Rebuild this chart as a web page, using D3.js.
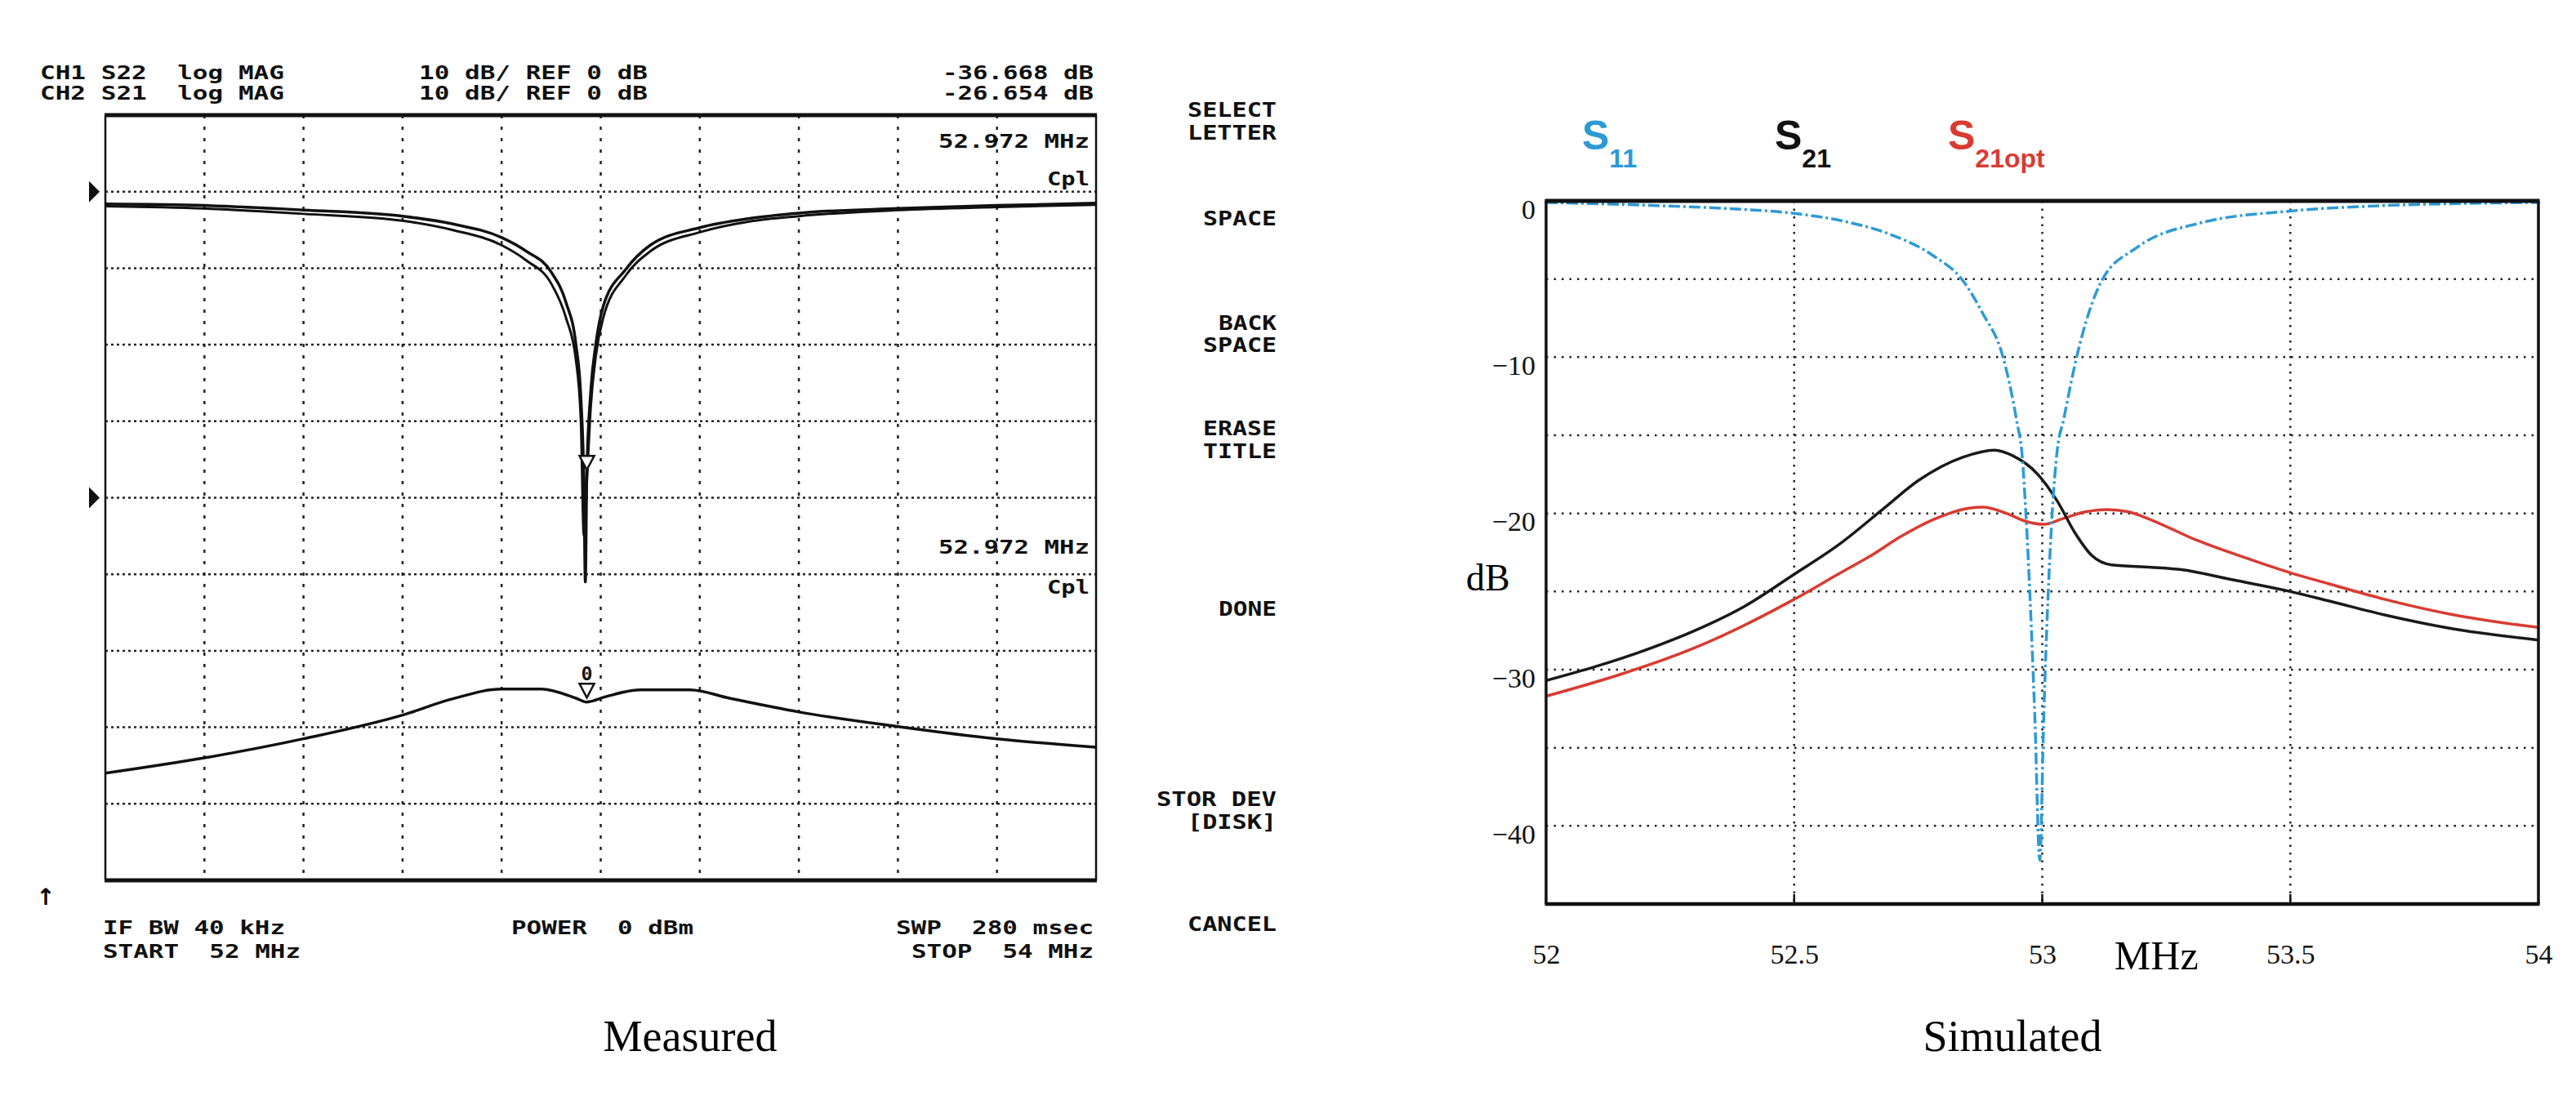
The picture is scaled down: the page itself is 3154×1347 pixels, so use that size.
<!DOCTYPE html>
<html>
<head>
<meta charset="utf-8">
<script src="https://cdn.jsdelivr.net/npm/d3@7"></script>
<style>
body { margin: 0; background: #fff; }
text { white-space: pre; }
</style>
</head>
<body>
<script>
// ---- measured (network analyser printout) ----
const measS22Freq = [52.0, 52.2, 52.4, 52.6, 52.7, 52.8, 52.85, 52.9, 52.93, 52.95, 52.96, 52.966, 52.969, 52.972, 52.98, 52.99, 53.005, 53.05, 53.1, 53.2, 53.3, 53.4, 53.6, 53.8, 54.0];
const measS22A = [-1.6, -1.8, -2.4, -3.2, -4.2, -6.0, -7.8, -10.5, -14.5, -20, -27, -38, -51, -36.7, -26, -20, -15, -10.2, -7, -4.7, -3.5, -2.8, -2.2, -1.8, -1.5];
const measS22B = [-1.9, -2.2, -2.9, -3.8, -5.0, -7.0, -9.0, -12, -16.5, -22, -30, -45, -42, -38, -28, -21.5, -16.5, -11, -7.8, -5.3, -3.9, -3.2, -2.4, -2.0, -1.7];
const measS21Freq = [52.0, 52.2, 52.4, 52.6, 52.7, 52.8, 52.88, 52.95, 52.972, 53.01, 53.08, 53.18, 53.26, 53.4, 53.6, 53.8, 54.0];
const measS21 = [-36.0, -34.0, -31.5, -28.4, -26.3, -25.0, -25.0, -26.2, -26.7, -26.0, -25.1, -25.1, -26.2, -28.0, -29.9, -31.5, -32.6];
const markerFreq = 52.972;
const markerS22 = -36.668;
const markerS21 = -26.654;

const headerLines = ["CH1 S22  log MAG", "CH2 S21  log MAG"];
const scaleLabels = ["10 dB/ REF 0 dB", "10 dB/ REF 0 dB"];
const readouts = ["-36.668 dB", "-26.654 dB"];
const menuLabels = [["SELECT", "LETTER"], ["SPACE"], ["BACK", "SPACE"], ["ERASE", "TITLE"], ["DONE"], ["STOR DEV", "[DISK]"], ["CANCEL"]];

// ---- simulated ----
const simS11Freq = [52.0, 52.22, 52.37, 52.5, 52.6, 52.69, 52.78, 52.84, 52.88, 52.92, 52.948, 52.96, 52.967, 52.985, 52.995, 53.003, 53.02, 53.03, 53.043, 53.07, 53.12, 53.19, 53.32, 53.5, 53.69, 54.0];
const simS11 = [-0.1, -0.3, -0.5, -0.8, -1.3, -2.1, -3.5, -5.1, -7.2, -9.9, -14.0, -16.5, -20, -33, -42.2, -33, -20, -16, -14, -9.9, -5.1, -3.0, -1.4, -0.65, -0.3, -0.1];
const simS21Freq = [52.0, 52.1, 52.2, 52.3, 52.4, 52.5, 52.59, 52.68, 52.75, 52.84, 52.904, 52.94, 52.991, 53.03, 53.067, 53.10, 53.14, 53.22, 53.28, 53.376, 53.5, 53.577, 53.69, 53.83, 54.0];
const simS21 = [-30.7, -29.8, -28.75, -27.5, -25.95, -23.9, -22.0, -19.7, -17.9, -16.4, -15.95, -16.3, -17.5, -19.2, -21.3, -22.7, -23.3, -23.45, -23.6, -24.2, -25.0, -25.6, -26.5, -27.4, -28.1];
const simOptFreq = [52.0, 52.15, 52.3, 52.5, 52.588, 52.66, 52.714, 52.78, 52.853, 52.88, 52.928, 52.966, 53.004, 53.04, 53.087, 53.13, 53.174, 53.218, 53.31, 53.41, 53.5, 53.577, 53.69, 53.83, 54.0];
const simOpt = [-31.7, -30.3, -28.6, -25.5, -23.9, -22.6, -21.5, -20.4, -19.66, -19.6, -20.0, -20.5, -20.7, -20.35, -19.9, -19.75, -19.9, -20.4, -21.7, -22.85, -23.8, -24.5, -25.5, -26.5, -27.3];
const xTicks = [52, 52.5, 53, 53.5, 54];
const yTicks = [0, -10, -20, -30, -40];

const W = 3154, H = 1347;
const svg = d3.select("body").append("svg").attr("width", W).attr("height", H);

// ================= left : measured =================
const L = {x0: 129, x1: 1342, y0: 141, y1: 1078};
const xM = d3.scaleLinear().domain([52, 54]).range([L.x0, L.x1]);
const yCh1 = d3.scaleLinear().domain([10, -90]).range([L.y0, L.y1]);
const yCh2 = d3.scaleLinear().domain([50, -50]).range([L.y0, L.y1]);

const pitch = 19;
function hp(x, y, str, anchor, size, weight) {
  const len = str.length * pitch - 5;
  const x0 = anchor === "end" ? x - len : x;
  svg.append("text").attr("x", x0).attr("y", y)
    .attr("textLength", len).attr("lengthAdjust", "spacingAndGlyphs")
    .style("font-family", "'DejaVu Sans Mono', monospace")
    .style("font-size", (size || 23) + "px")
    .style("font-weight", weight || "bold")
    .attr("fill", "#111")
    .text(str);
}

const gl = svg.append("g");
gl.selectAll(".hg").data(d3.range(0, -81, -10)).enter().append("line")
  .attr("x1", L.x0).attr("x2", L.x1)
  .attr("y1", d => yCh1(d)).attr("y2", d => yCh1(d))
  .attr("stroke", "#222").attr("stroke-width", 2.5).attr("stroke-dasharray", "3,4");
gl.selectAll(".vg").data(d3.range(1, 10).map(i => 52 + i * 0.2)).enter().append("line")
  .attr("x1", d => xM(d)).attr("x2", d => xM(d))
  .attr("y1", L.y0).attr("y2", L.y1)
  .attr("stroke", "#222").attr("stroke-width", 2.5).attr("stroke-dasharray", "4,10");

gl.append("line").attr("x1", L.x0).attr("x2", L.x0).attr("y1", L.y0).attr("y2", L.y1).attr("stroke", "#111").attr("stroke-width", 2.5);
gl.append("line").attr("x1", L.x1).attr("x2", L.x1).attr("y1", L.y0).attr("y2", L.y1).attr("stroke", "#111").attr("stroke-width", 2.5);
gl.append("line").attr("x1", L.x0 - 1).attr("x2", L.x1 + 1).attr("y1", L.y0).attr("y2", L.y0).attr("stroke", "#111").attr("stroke-width", 5);
gl.append("line").attr("x1", L.x0 - 1).attr("x2", L.x1 + 1).attr("y1", L.y1).attr("y2", L.y1).attr("stroke", "#111").attr("stroke-width", 5);

// reference markers
[yCh1(0), yCh2(0)].forEach(y => {
  gl.append("path").attr("d", `M109,${y - 13}L122,${y}L109,${y + 13}Z`).attr("fill", "#111");
});

const lineM1 = d3.line().x(d => xM(d[0])).y(d => yCh1(d[1])).curve(d3.curveMonotoneX);
const lineM2 = d3.line().x(d => xM(d[0])).y(d => yCh2(d[1])).curve(d3.curveMonotoneX);
gl.append("path").datum(d3.zip(measS22Freq, measS22A)).attr("d", lineM1)
  .attr("fill", "none").attr("stroke", "#111").attr("stroke-width", 3.5);
gl.append("path").datum(d3.zip(measS22Freq, measS22B)).attr("d", lineM1)
  .attr("fill", "none").attr("stroke", "#111").attr("stroke-width", 3);
gl.append("path").datum(d3.zip(measS21Freq, measS21)).attr("d", lineM2)
  .attr("fill", "none").attr("stroke", "#111").attr("stroke-width", 3.5);

// markers
function marker(x, yTip) {
  gl.append("path").attr("d", `M${x - 9},${yTip - 17}L${x + 9},${yTip - 17}L${x},${yTip}Z`)
    .attr("fill", "#fff").attr("stroke", "#111").attr("stroke-width", 2.5);
}
marker(xM(markerFreq), yCh1(markerS22) - 3);
marker(xM(markerFreq), yCh2(markerS21) - 5);
hp(xM(markerFreq) - 7, yCh2(markerS21) - 26, "0", "start", 23);

// header + readouts
headerLines.forEach((s, i) => {
  hp(49, 97 + i * 25, s, "start");
  hp(513, 97 + i * 25, scaleLabels[i], "start");
  hp(1339, 97 + i * 25, readouts[i], "end");
});
hp(1334, 181, "52.972 MHz", "end");
hp(1334, 227, "Cpl", "end");
hp(1334, 678, "52.972 MHz", "end");
hp(1334, 727, "Cpl", "end");

hp(126, 1144, "IF BW 40 kHz", "start");
hp(126, 1173, "START  52 MHz", "start");
hp(626, 1144, "POWER  0 dBm", "start");
hp(1339, 1144, "SWP  280 msec", "end");
hp(1339, 1173, "STOP  54 MHz", "end");
svg.append("text").attr("x", 56).attr("y", 1108).attr("text-anchor", "middle")
  .style("font-family", "'DejaVu Sans'").style("font-size", "28px").style("font-weight", "bold").text("\u2191");

// softkey menu
const menuBase = [[143, 171], [276], [404, 431], [533, 561], [754], [987, 1015], [1140]];
menuLabels.forEach((lab, i) => {
  lab.forEach((s, j) => hp(1563, menuBase[i][j], s, "end", 25, "bold"));
});

svg.append("text").attr("x", 845).attr("y", 1287).attr("text-anchor", "middle")
  .style("font-family", "'Liberation Serif', serif").style("font-size", "54px").text("Measured");

// ================= right : simulated =================
const R = {x0: 1893, x1: 3108, y0: 246, y1: 1107};
const xS = d3.scaleLinear().domain([52, 54]).range([R.x0, R.x1]);
const yS = d3.scaleLinear().domain([-45, 0]).range([R.y1, R.y0]);

const gr = svg.append("g");
gr.selectAll(".hg").data(d3.range(-5, -41, -5)).enter().append("line")
  .attr("x1", R.x0).attr("x2", R.x1)
  .attr("y1", d => yS(d)).attr("y2", d => yS(d))
  .attr("stroke", "#222").attr("stroke-width", 2.5).attr("stroke-dasharray", "2.5,7");
gr.selectAll(".vg").data([52.5, 53, 53.5]).enter().append("line")
  .attr("x1", d => xS(d)).attr("x2", d => xS(d))
  .attr("y1", R.y0).attr("y2", R.y1)
  .attr("stroke", "#222").attr("stroke-width", 2.5).attr("stroke-dasharray", "2.5,7");
gr.selectAll(".tk").data([52.5, 53, 53.5]).enter().append("line")
  .attr("x1", d => xS(d)).attr("x2", d => xS(d))
  .attr("y1", R.y1 - 12).attr("y2", R.y1)
  .attr("stroke", "#111").attr("stroke-width", 2.5);

const lineS = d3.line().x(d => xS(d[0])).y(d => yS(d[1])).curve(d3.curveMonotoneX);
gr.append("path").datum(d3.zip(simOptFreq, simOpt)).attr("d", lineS)
  .attr("fill", "none").attr("stroke", "#d93b32").attr("stroke-width", 3.5);
gr.append("path").datum(d3.zip(simS21Freq, simS21)).attr("d", lineS)
  .attr("fill", "none").attr("stroke", "#1a1a1a").attr("stroke-width", 3.5);
gr.append("path").datum(d3.zip(simS11Freq, simS11)).attr("d", lineS)
  .attr("fill", "none").attr("stroke", "#2d9ad6").attr("stroke-width", 3.5)
  .attr("stroke-dasharray", "14,4,3,4");

// frame
gr.append("line").attr("x1", R.x0).attr("x2", R.x0).attr("y1", R.y0).attr("y2", R.y1).attr("stroke", "#111").attr("stroke-width", 3.5);
gr.append("line").attr("x1", R.x1).attr("x2", R.x1).attr("y1", R.y0).attr("y2", R.y1).attr("stroke", "#111").attr("stroke-width", 3.5);
gr.append("line").attr("x1", R.x0 - 1.5).attr("x2", R.x1 + 1.5).attr("y1", R.y0).attr("y2", R.y0).attr("stroke", "#111").attr("stroke-width", 5);
gr.append("line").attr("x1", R.x0 - 1.5).attr("x2", R.x1 + 1.5).attr("y1", R.y1).attr("y2", R.y1).attr("stroke", "#111").attr("stroke-width", 4.5);

// axes
const serif = "'Liberation Serif', 'Times New Roman', serif";
svg.append("g").attr("transform", `translate(${R.x0},0)`)
  .call(d3.axisLeft(yS).tickValues(yTicks).tickSize(0).tickPadding(13)
    .tickFormat(d => d === 0 ? "0" : "\u2212" + Math.abs(d)))
  .call(g => g.select(".domain").remove())
  .call(g => g.selectAll("text").attr("dy", "0.62em")
    .style("font-family", serif).style("font-size", "34px").attr("fill", "#111"));
svg.append("g").attr("transform", `translate(0,${R.y1})`)
  .call(d3.axisBottom(xS).tickValues(xTicks).tickSize(0).tickPadding(49)
    .tickFormat(d3.format("")))
  .call(g => g.select(".domain").remove())
  .call(g => g.selectAll("text")
    .style("font-family", serif).style("font-size", "34px").attr("fill", "#111"));

svg.append("text").attr("x", 1795).attr("y", 723)
  .style("font-family", serif).style("font-size", "46px").text("dB");
svg.append("text").attr("x", xS(53.23)).attr("y", 1187).attr("text-anchor", "middle")
  .style("font-family", serif).style("font-size", "50px").text("MHz");
svg.append("text").attr("x", 2464).attr("y", 1287).attr("text-anchor", "middle")
  .style("font-family", serif).style("font-size", "54px").text("Simulated");

// legend
const legend = [
  {x: 1937, main: "S", sub: "11", color: "#2d9ad6"},
  {x: 2173, main: "S", sub: "21", color: "#111"},
  {x: 2385, main: "S", sub: "21opt", color: "#d93b32"}
];
legend.forEach(l => {
  const t = svg.append("text").attr("x", l.x).attr("y", 183).attr("fill", l.color)
    .style("font-family", "'Liberation Sans Narrow', 'Liberation Sans', Arial, sans-serif")
    .style("font-weight", "bold");
  t.append("tspan").style("font-size", "50px").text(l.main);
  t.append("tspan").attr("dy", 22).style("font-size", "32px").text(l.sub);
});
</script>
</body>
</html>
